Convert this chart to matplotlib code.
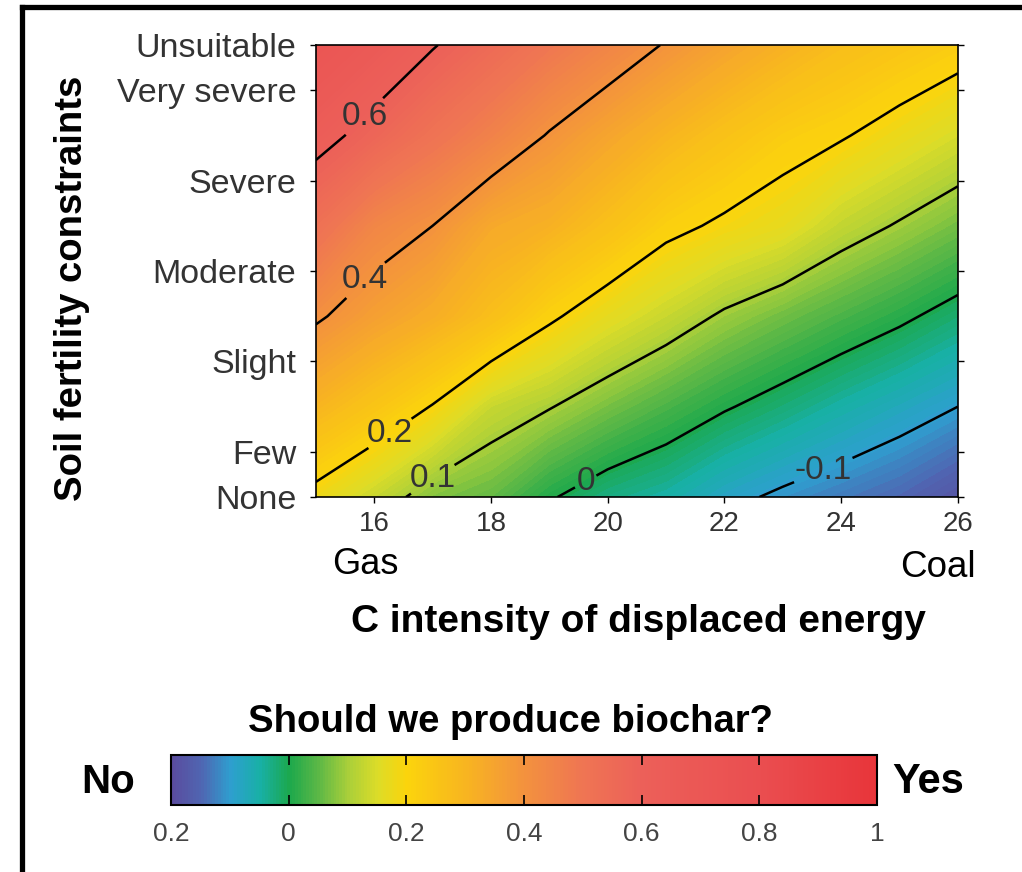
import matplotlib
matplotlib.use("Agg")
import matplotlib.pyplot as plt
from matplotlib.colors import LinearSegmentedColormap, Normalize
from matplotlib.cm import ScalarMappable
from matplotlib.lines import Line2D
import numpy as np

# carbon intensity of displaced energy (x) and soil constraint level (y)
c_intensity = [15, 16, 17, 18, 19, 20, 21, 22, 23, 24, 25, 26]
soil_level = [0, 1, 2, 3, 4, 5]

# one row per soil level
z_none = [0.18, 0.13, 0.075, 0.055, 0.005, -0.03, -0.05, -0.085, -0.11, -0.13, -0.15, -0.18]
z_1 = [0.30, 0.25, 0.197, 0.13, 0.103, 0.068, 0.036, 0.005, -0.022, -0.05, -0.075, -0.10]
z_2 = [0.41, 0.36, 0.32, 0.27, 0.21, 0.165, 0.13, 0.092, 0.063, 0.036, 0.01, -0.02]
z_3 = [0.52, 0.44, 0.40, 0.335, 0.31, 0.265, 0.216, 0.19, 0.168, 0.125, 0.095, 0.065]
z_4 = [0.63, 0.57, 0.51, 0.455, 0.395, 0.345, 0.30, 0.26, 0.225, 0.205, 0.175, 0.145]
z_5 = [0.72, 0.665, 0.605, 0.55, 0.495, 0.445, 0.395, 0.35, 0.31, 0.275, 0.25, 0.225]

contour_levels = [-0.1, 0, 0.1, 0.2, 0.4, 0.6]
label_spots = [(16.0, 4.1), (16.0, 2.3), (16.35, 0.63), (17.0, 0.2), (19.6, 0.2), (23.6, 0.45)]

ytick_pos = [0, 0.5, 1.5, 2.5, 3.5, 4.5, 5]
ytick_labels = ["None", "Few", "Slight", "Moderate", "Severe", "Very severe", "Unsuitable"]
xtick_pos = [16, 18, 20, 22, 24, 26]
cbar_ticks = [-0.2, 0, 0.2, 0.4, 0.6, 0.8, 1]
cbar_labels = ["0.2", "0", "0.2", "0.4", "0.6", "0.8", "1"]

# colour stops (value, colour)
cmap_stops = [(-0.2, "#5a4c9e"), (-0.15, "#4f66b2"), (-0.1, "#2e9fcf"), (-0.05, "#18b0a6"),
              (0.0, "#1ca84c"), (0.05, "#5db846"), (0.1, "#a9cf3a"), (0.15, "#dcdc28"),
              (0.2, "#fbd40c"), (0.3, "#f8b520"), (0.4, "#f3923e"), (0.5, "#ef7553"),
              (0.6, "#ec6059"), (0.8, "#ea4e50"), (1.0, "#e8353a")]

vmin, vmax = -0.2, 1.0
cmap = LinearSegmentedColormap.from_list(
    "biochar", [((v - vmin) / (vmax - vmin), c) for v, c in cmap_stops])
norm = Normalize(vmin=vmin, vmax=vmax)

plt.rcParams["font.family"] = ["Liberation Sans", "DejaVu Sans"]

X, Y = np.meshgrid(c_intensity, soil_level)
Z = np.array([z_none, z_1, z_2, z_3, z_4, z_5])

fig = plt.figure(figsize=(10.22, 8.72), dpi=100)
ax = fig.add_axes([0.309, 0.43, 0.6282, 0.5183])

ax.contourf(X, Y, Z, levels=np.linspace(vmin, vmax, 161), cmap=cmap, norm=norm, antialiased=False)
cs = ax.contour(X, Y, Z, levels=contour_levels, colors="black", linewidths=1.8,
                linestyles="solid")
lbls = ax.clabel(cs, fmt=lambda v: "%g" % v, manual=label_spots, fontsize=24,
                 colors="#333333", inline=True, inline_spacing=3)
for t in lbls:
    t.set_rotation(0)

ax.set_xlim(15, 26)
ax.set_ylim(0, 5)
ax.set_yticks(ytick_pos)
ax.set_yticklabels(ytick_labels, fontsize=24.5, color="#333333")
ax.set_xticks(xtick_pos)
ax.set_xticklabels([str(v) for v in xtick_pos], fontsize=20, color="#333333")
ax.tick_params(direction="out", length=4, width=1, right=True, pad=6)
ax.tick_params(axis="y", pad=10)
for s in ax.spines.values():
    s.set_linewidth(1.2)

fig.text(72 / 1022, 1 - 288 / 872, "Soil fertility constraints", fontsize=27.5,
         fontweight="bold", rotation=90, ha="center", va="center")
fig.text(332 / 1022, 1 - 564 / 872, "Gas", fontsize=26, ha="left", va="center")
fig.text(976 / 1022, 1 - 567 / 872, "Coal", fontsize=26.5, ha="right", va="center")
fig.text(638 / 1022, 1 - 622 / 872, "C intensity of displaced energy", fontsize=28,
         fontweight="bold", ha="center", va="center")
fig.text(510 / 1022, 1 - 722 / 872, "Should we produce biochar?", fontsize=27.5,
         fontweight="bold", ha="center", va="center")
fig.text(108 / 1022, 1 - 782 / 872, "No", fontsize=29, fontweight="bold", ha="center", va="center")
fig.text(928 / 1022, 1 - 782 / 872, "Yes", fontsize=30, fontweight="bold", ha="center", va="center")

cax = fig.add_axes([0.1673, 0.0768, 0.6908, 0.0573])
cb = fig.colorbar(ScalarMappable(norm=norm, cmap=cmap), cax=cax, orientation="horizontal",
                  ticks=cbar_ticks)
cb.ax.set_xticklabels(cbar_labels, fontsize=19, color="#444444")
cb.ax.tick_params(direction="in", length=7, width=1.2, top=True, bottom=True, pad=12)
cb.outline.set_linewidth(1.5)

# partial frame round the panel (left and top edges)
fig.add_artist(Line2D([22 / 1022, 22 / 1022], [0, 1 - 7 / 872], color="black", lw=3.8,
                      transform=fig.transFigure))
fig.add_artist(Line2D([22 / 1022, 1], [1 - 7 / 872, 1 - 7 / 872], color="black", lw=3.8,
                      transform=fig.transFigure))

fig.savefig("out.png", dpi=100)
